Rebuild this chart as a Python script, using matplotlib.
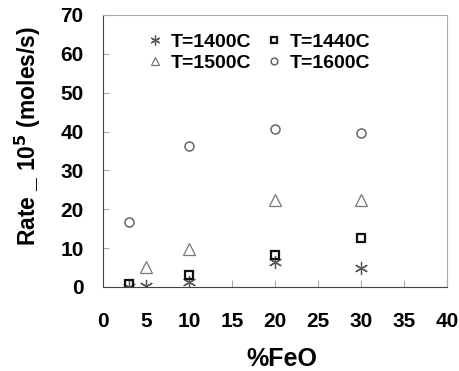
import matplotlib
matplotlib.use("Agg")
import matplotlib.pyplot as plt

plt.rcParams['font.family'] = ['Liberation Sans', 'DejaVu Sans']
plt.rcParams['font.weight'] = 'bold'

x_1400 = [3, 5, 10, 20, 30]
y_1400 = [0.1, 0.3, 1.4, 6.5, 5.0]
x_1440 = [3, 10, 20, 30]
y_1440 = [0.8, 3.1, 8.2, 12.5]
x_1500 = [5, 10, 20, 30]
y_1500 = [5.2, 9.9, 22.4, 22.4]
x_1600 = [3, 10, 20, 30]
y_1600 = [16.8, 36.4, 40.6, 39.7]

xticks = [0, 5, 10, 15, 20, 25, 30, 35, 40]
yticks = [0, 10, 20, 30, 40, 50, 60, 70]

W, H = 460, 371
fig = plt.figure(figsize=(W/100, H/100), dpi=100)
ax = fig.add_axes([103/W, 1 - 287/H, (447-103)/W, (287-15)/H])

h1, = ax.plot(x_1400, y_1400, linestyle='none', marker=(6, 2, 0), ms=9.5, mew=0.9, color='#555555', label='T=1400C')
h2, = ax.plot(x_1440, y_1440, linestyle='none', marker='s', ms=5.5, mew=1.6, mfc='none', mec='#111111', label='T=1440C')
h3, = ax.plot(x_1500, y_1500, linestyle='none', marker='^', ms=8, mew=0.9, mfc='none', mec='#777777', label='T=1500C')
h4, = ax.plot(x_1600, y_1600, linestyle='none', marker='o', ms=6.5, mew=1.1, mfc='none', mec='#666666', label='T=1600C')

ax.set_xlim(0, 40)
ax.set_ylim(0, 70)
ax.set_xticks(xticks)
ax.set_yticks(yticks)
ax.tick_params(axis='x', direction='in', length=5, color='#aaaaaa', labelsize=15, pad=18)
ax.tick_params(axis='y', direction='in', length=4, color='#aaaaaa', labelsize=15, pad=14)
for lab in ax.get_xticklabels() + ax.get_yticklabels():
    lab.set_fontweight('bold')
for s in ['top', 'right']:
    ax.spines[s].set_color('#aaaaaa')
for s in ['left', 'bottom']:
    ax.spines[s].set_color('#444444')

fig.text(282/W, 1 - 359/H, '%FeO', fontsize=18, fontweight='bold', ha='center', va='center')
fig.text(28/W, 1 - 136/H, 'Rate _ 10$^{\\mathbf{5}}$ (moles/s)', fontsize=16.5, fontweight='bold',
         ha='center', va='center', rotation=90)

ax.legend([h1, h3, h2, h4], ['T=1400C', 'T=1500C', 'T=1440C', 'T=1600C'],
          ncol=2, loc='upper left', bbox_to_anchor=(146/W, 1 - 33/H), bbox_transform=fig.transFigure,
          frameon=False, prop={'weight': 'bold', 'size': 14}, handletextpad=0.35, columnspacing=0.75,
          labelspacing=0.2, handlelength=0.9, markerscale=0.75, borderpad=0, borderaxespad=0)

fig.savefig('out.png', dpi=100)
